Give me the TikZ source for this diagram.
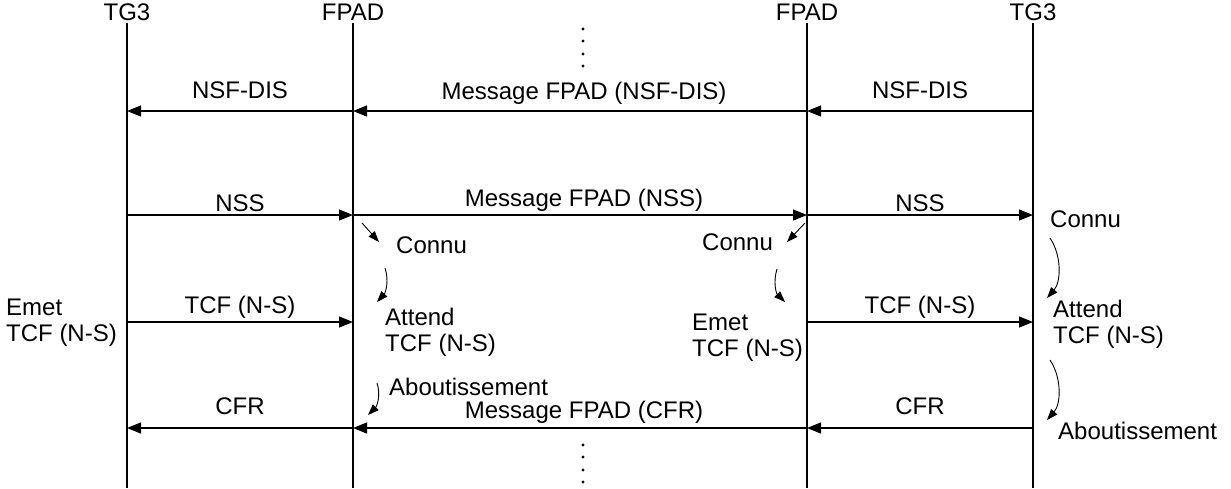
\documentclass[tikz,border=0pt]{standalone}
\usepackage{fontspec}
\setmainfont{Liberation Sans}
\usetikzlibrary{arrows.meta}
\begin{document}
\begin{tikzpicture}[x=1pt,y=-1pt,
  font=\fontsize{24}{26}\selectfont,
  every node/.style={inner sep=0pt},
  life/.style={line width=1.2pt},
  msg/.style={line width=1.2pt,-{Triangle[length=14pt,width=11pt]}},
  note/.style={line width=0.9pt,-{Triangle[length=11pt,width=8pt]}},
  multi/.style={align=left,anchor=west},
  dotmark/.style={fill=black}]
\useasboundingbox (0,0) rectangle (1231,488);
% heads
\node (h1) at (127,12) {TG3};
\node (h2) at (353,12) {FPAD};
\node (h3) at (807,12) {FPAD};
\node (h4) at (1033,12) {TG3};
\foreach \i/\x in {1/127,2/353,3/807,4/1033}{
  \coordinate (t\i) at (\x,23);
  \coordinate (e\i) at (\x,488);
  \foreach \r/\y in {a/111,b/215,c/322,d/428}{
    \coordinate (\r\i) at (\x,\y);
  }
}
\foreach \i in {1,2,3,4}{\draw[life] (t\i) -- (e\i);}
% dots
\foreach \y [count=\k] in {29,41,54,66}{\fill[dotmark] (583,\y) circle (1.6);}
\foreach \y [count=\k] in {445,457,470,482}{\fill[dotmark] (583,\y) circle (1.6);}
% row a
\draw[msg] (a4) -- (a3);
\draw[msg] (a3) -- (a2);
\draw[msg] (a2) -- (a1);
\node (la1) at (240,90) {NSF-DIS};
\node (la2) at (584,93) {Message FPAD (NSF-DIS)};
\node (la3) at (920,90) {NSF-DIS};
% row b
\draw[msg] (b1) -- (b2);
\draw[msg] (b2) -- (b3);
\draw[msg] (b3) -- (b4);
\node (lb1) at (240,203) {NSS};
\node (lb2) at (584,200) {Message FPAD (NSS)};
\node (lb3) at (920,203) {NSS};
% row c
\draw[msg] (c1) -- (c2);
\draw[msg] (c3) -- (c4);
\node (lc1) at (240,307) {TCF (N-S)};
\node (lc3) at (920,307) {TCF (N-S)};
% row d
\draw[msg] (d4) -- (d3);
\draw[msg] (d3) -- (d2);
\draw[msg] (d2) -- (d1);
\node (ld1) at (240,406) {CFR};
\node (ld2) at (584,412) {Message FPAD (CFR)};
\node (ld3) at (920,406) {CFR};
% left annotation
\node[multi] (n0) at (6,323) {Emet\\TCF (N-S)};
% FPAD left annotations
\node[anchor=west] (n1) at (396,245) {Connu};
\node[multi] (n2) at (385,332) {Attend\\TCF (N-S)};
\node[anchor=west] (n3) at (389,387) {Aboutissement};
\coordinate (p1s) at (362,223); \coordinate (p1e) at (379,242);
\coordinate (p2s) at (385,268); \coordinate (p2e) at (377,302);
\coordinate (p3s) at (377,383); \coordinate (p3e) at (368,415);
\draw[note] (p1s) -- (p1e);
\draw[note] (p2s) .. controls (389,280) and (386,292) .. (p2e);
\draw[note] (p3s) .. controls (381,395) and (377,406) .. (p3e);
% FPAD right annotations
\node[anchor=west] (n4) at (702,242) {Connu};
\node[multi] (n5) at (692,338) {Emet\\TCF (N-S)};
\coordinate (q1s) at (805,223); \coordinate (q1e) at (787,242);
\coordinate (q2s) at (777,269); \coordinate (q2e) at (785,302);
\draw[note] (q1s) -- (q1e);
\draw[note] (q2s) .. controls (773,282) and (776,293) .. (q2e);
% TG3 right annotations
\node[anchor=west] (n6) at (1050,219) {Connu};
\node[multi] (n7) at (1053,324) {Attend\\TCF (N-S)};
\node[anchor=west] (n8) at (1058,431) {Aboutissement};
\coordinate (r1s) at (1050,238); \coordinate (r1e) at (1047,298);
\coordinate (r2s) at (1050,360); \coordinate (r2e) at (1047,420);
\draw[note] (r1s) .. controls (1062,256) and (1061,282) .. (r1e);
\draw[note] (r2s) .. controls (1062,378) and (1061,404) .. (r2e);
\end{tikzpicture}
\end{document}
